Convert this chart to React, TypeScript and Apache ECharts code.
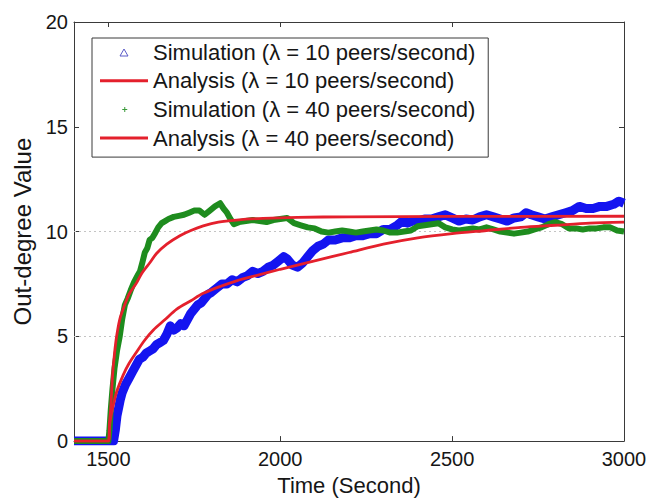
import React, { useEffect, useRef } from "react";
import * as echarts from "echarts";

// ---- data ----
const X_TICKS = [1500, 2000, 2500, 3000];
const X_TOP_TICKS = [1500, 2000, 2500];
const GRID_Y_VALUES = [5, 10];
const SERIES_NAMES = [
  "Simulation (λ = 10 peers/second)",
  "Analysis (λ = 10 peers/second)",
  "Simulation (λ = 40 peers/second)",
  "Analysis (λ = 40 peers/second)",
];

// Simulation, λ = 10 peers/second (blue triangles)
const simLambda10: [number, number][] = [
  [1400, 0], [1450, 0], [1500, 0], [1515, 0], [1520, 0.5], [1525, 1.2], [1530, 1.6], [1535, 2.0],
  [1540, 2.3], [1550, 2.7], [1560, 3.0], [1570, 3.3], [1580, 3.6], [1590, 3.9], [1600, 4.0],
  [1610, 4.2], [1620, 4.3], [1630, 4.4], [1640, 4.6], [1650, 4.7], [1660, 4.8], [1670, 5.1],
  [1680, 5.5], [1690, 5.3], [1700, 5.4], [1710, 5.6], [1720, 5.5], [1730, 5.8], [1740, 6.1],
  [1750, 6.3], [1760, 6.5], [1770, 6.6], [1780, 6.8], [1790, 7.0], [1800, 7.1], [1815, 7.3],
  [1830, 7.5], [1845, 7.5], [1860, 7.7], [1875, 7.6], [1890, 7.8], [1905, 7.9], [1920, 8.1],
  [1935, 8.0], [1950, 8.1], [1965, 8.3], [1980, 8.4], [1995, 8.6], [2010, 8.8], [2020, 8.7],
  [2035, 8.4], [2050, 8.3], [2065, 8.5], [2080, 8.8], [2095, 9.1], [2110, 9.3], [2125, 9.4],
  [2140, 9.6], [2160, 9.6], [2180, 9.7], [2200, 9.7], [2220, 9.8], [2240, 9.8], [2260, 9.9],
  [2280, 9.9], [2300, 10.1], [2320, 10.1], [2340, 10.3], [2355, 10.5], [2370, 10.4], [2385, 10.5],
  [2400, 10.5], [2420, 10.6], [2440, 10.6], [2460, 10.7], [2480, 10.8], [2500, 10.65], [2520, 10.5],
  [2540, 10.6], [2560, 10.55], [2580, 10.7], [2600, 10.8], [2620, 10.7], [2640, 10.6], [2660, 10.5],
  [2680, 10.65], [2700, 10.7], [2715, 10.9], [2730, 10.8], [2750, 10.7], [2770, 10.6], [2790, 10.7],
  [2810, 10.8], [2830, 10.9], [2850, 11.0], [2870, 11.2], [2890, 11.1], [2910, 11.1], [2930, 11.2],
  [2950, 11.2], [2970, 11.3], [2985, 11.45], [3000, 11.35],
];

// Analysis, λ = 10 peers/second
const anaLambda10: [number, number][] = [
  [1400, 0], [1500, 0], [1504, 0.8], [1509, 1.3], [1514, 1.7], [1525, 2.4], [1543, 3.15],
  [1560, 3.7], [1582, 4.25], [1605, 4.8], [1631, 5.3], [1665, 5.8], [1699, 6.3], [1740, 6.7],
  [1776, 7.05], [1820, 7.35], [1873, 7.65], [1930, 7.9], [2000, 8.2], [2100, 8.6], [2200, 9.0],
  [2300, 9.4], [2400, 9.7], [2500, 9.9], [2600, 10.05], [2700, 10.2], [2800, 10.3], [2900, 10.4],
  [3000, 10.45],
];

// Simulation, λ = 40 peers/second (green pluses)
const simLambda40: [number, number][] = [
  [1400, 0], [1500, 0], [1503, 0.5], [1507, 1.5], [1512, 2.5], [1518, 3.5], [1525, 4.3], [1533, 5.0],
  [1540, 5.8], [1548, 6.5], [1556, 6.8], [1565, 7.2], [1575, 7.6], [1585, 7.9], [1592, 8.1],
  [1600, 8.6], [1606, 9.0], [1613, 9.2], [1620, 9.6], [1628, 9.7], [1635, 9.9], [1645, 10.2],
  [1655, 10.4], [1665, 10.5], [1675, 10.6], [1690, 10.7], [1705, 10.75], [1720, 10.8], [1735, 10.9],
  [1750, 11.0], [1765, 11.0], [1780, 10.8], [1795, 11.0], [1810, 11.2], [1825, 11.35], [1835, 11.1],
  [1845, 10.9], [1855, 10.6], [1865, 10.35], [1880, 10.45], [1900, 10.5], [1920, 10.55], [1940, 10.5],
  [1960, 10.45], [1980, 10.55], [2000, 10.6], [2020, 10.65], [2040, 10.4], [2060, 10.3], [2080, 10.2],
  [2100, 10.15], [2120, 10.0], [2140, 9.95], [2160, 10.0], [2180, 10.05], [2200, 10.0], [2220, 9.95],
  [2240, 10.0], [2260, 10.05], [2280, 10.1], [2300, 10.05], [2320, 9.95], [2340, 9.95], [2360, 10.0],
  [2380, 10.05], [2400, 10.25], [2420, 10.3], [2440, 10.35], [2460, 10.4], [2480, 10.2], [2500, 10.1],
  [2520, 10.05], [2540, 10.1], [2560, 10.15], [2580, 10.1], [2600, 10.2], [2620, 10.1], [2640, 10.0],
  [2660, 9.95], [2680, 9.9], [2700, 9.95], [2720, 10.0], [2740, 10.1], [2760, 10.2], [2780, 10.35],
  [2800, 10.45], [2820, 10.35], [2840, 10.15], [2860, 10.15], [2880, 10.1], [2900, 10.15], [2920, 10.15],
  [2940, 10.2], [2960, 10.2], [2980, 10.05], [3000, 10.0],
];

// Analysis, λ = 40 peers/second
const anaLambda40: [number, number][] = [
  [1400, 0], [1500, 0], [1503, 0.8], [1507, 1.6], [1512, 3.1], [1518, 4.2], [1524, 5.0], [1533, 5.8],
  [1543, 6.3], [1560, 7.0], [1582, 7.55], [1597, 8.0], [1620, 8.5], [1640, 8.95], [1670, 9.4],
  [1708, 9.8], [1740, 10.05], [1776, 10.27], [1820, 10.45], [1873, 10.55], [1950, 10.63], [2050, 10.68],
  [2200, 10.7], [2500, 10.72], [3000, 10.73],
];

const BLUE = "#1414f0";
const GREEN = "#1e8c1e";
const RED = "#e4202c";
const FONT = "'Liberation Sans', Arial, Helvetica, sans-serif";

export default function App() {
  const ref = useRef<HTMLDivElement>(null);

  useEffect(() => {
    if (!ref.current) return;
    const chart = echarts.init(ref.current, undefined, { renderer: "svg" });

    const axisLineStyle = { color: "#3a3a3a", width: 1 };
    const plainNumber = (v: number) => String(v);

    chart.setOption({
      animation: false,
      backgroundColor: "#ffffff",
      textStyle: { fontFamily: FONT },
      grid: { left: 74, right: 38, top: 22, bottom: 54, containLabel: false },
      legend: {
        orient: "vertical",
        left: 92,
        top: 38,
        padding: [3, 13, 8, 8],
        itemWidth: 48,
        itemHeight: 12,
        itemGap: 6.7,
        selectedMode: false,
        backgroundColor: "#ffffff",
        borderColor: "#3a3a3a",
        borderWidth: 1,
        borderRadius: 0,
        symbolKeepAspect: true,
        z: 10,
        textStyle: { fontSize: 22, color: "#161616", fontFamily: FONT, lineHeight: 22 },
        data: [
          {
            name: SERIES_NAMES[0],
            icon: "path://M0,0M0,12M4,3L8,10H0Z",
            itemStyle: { color: "#ffffff", borderColor: "#5a5ac8", borderWidth: 1 },
          },
          {
            name: SERIES_NAMES[1],
            icon: "path://M0,0H48V3H0Z",
            itemStyle: { color: RED, borderWidth: 0 },
          },
          {
            name: SERIES_NAMES[2],
            icon: "path://M0,0M0,12M2.5,5.5H3.5V3.5H4.5V5.5H6.5V6.5H4.5V8.5H3.5V6.5H1.5V5.5H2.5Z",
            itemStyle: { color: "#3a9a3a", borderWidth: 0 },
          },
          {
            name: SERIES_NAMES[3],
            icon: "path://M0,0H48V3H0Z",
            itemStyle: { color: RED, borderWidth: 0 },
          },
        ],
      },
      xAxis: [
        {
          type: "value",
          position: "bottom",
          min: 1400,
          max: 3000,
          name: "Time (Second)",
          nameLocation: "middle",
          nameGap: 32,
          nameTextStyle: { fontSize: 22, color: "#161616", fontFamily: FONT },
          axisLine: { show: true, onZero: false, lineStyle: axisLineStyle },
          axisTick: { show: true, inside: true, length: 5, customValues: X_TICKS, lineStyle: axisLineStyle },
          axisLabel: {
            show: true,
            customValues: X_TICKS,
            formatter: plainNumber,
            fontSize: 20,
            color: "#161616",
            margin: 8,
            fontFamily: FONT,
          },
          splitLine: { show: false },
        },
        {
          type: "value",
          position: "top",
          min: 1400,
          max: 3000,
          axisLine: { show: true, onZero: false, lineStyle: axisLineStyle },
          axisTick: { show: true, inside: true, length: 5, customValues: X_TOP_TICKS, lineStyle: axisLineStyle },
          axisLabel: { show: false },
          splitLine: { show: false },
        },
      ],
      yAxis: [
        {
          type: "value",
          position: "left",
          min: 0,
          max: 20,
          interval: 5,
          name: "Out-degree Value",
          nameLocation: "middle",
          nameGap: 38,
          nameTextStyle: { fontSize: 24, color: "#161616", fontFamily: FONT },
          axisLine: { show: true, onZero: false, lineStyle: axisLineStyle },
          axisTick: { show: true, inside: true, length: 5, lineStyle: axisLineStyle },
          axisLabel: { show: true, formatter: plainNumber, fontSize: 20, color: "#161616", margin: 6, fontFamily: FONT },
          splitLine: { show: false },
        },
        {
          type: "value",
          position: "right",
          min: 0,
          max: 20,
          interval: 5,
          axisLine: { show: true, onZero: false, lineStyle: axisLineStyle },
          axisTick: { show: true, inside: true, length: 5, lineStyle: axisLineStyle },
          axisLabel: { show: false },
          splitLine: { show: false },
        },
      ],
      series: [
        {
          name: SERIES_NAMES[0],
          type: "line",
          xAxisIndex: 0,
          yAxisIndex: 0,
          data: simLambda10,
          showSymbol: false,
          symbol: "triangle",
          color: BLUE,
          lineStyle: { color: BLUE, width: 9, join: "round" },
          markLine: {
            silent: true,
            symbol: "none",
            label: { show: false },
            lineStyle: { color: "#c4c4c4", type: [2, 3], width: 1 },
            data: GRID_Y_VALUES.map((v) => ({ yAxis: v })),
            z: 1,
          },
          z: 2,
        },
        {
          name: SERIES_NAMES[2],
          type: "line",
          xAxisIndex: 0,
          yAxisIndex: 0,
          data: simLambda40,
          showSymbol: false,
          color: GREEN,
          lineStyle: { color: GREEN, width: 6, join: "round" },
          z: 3,
        },
        {
          name: SERIES_NAMES[1],
          type: "line",
          xAxisIndex: 0,
          yAxisIndex: 0,
          data: anaLambda10,
          showSymbol: false,
          smooth: 0.3,
          color: RED,
          lineStyle: { color: RED, width: 2.8 },
          z: 4,
        },
        {
          name: SERIES_NAMES[3],
          type: "line",
          xAxisIndex: 0,
          yAxisIndex: 0,
          data: anaLambda40,
          showSymbol: false,
          smooth: 0.3,
          color: RED,
          lineStyle: { color: RED, width: 2.8 },
          z: 4,
        },
      ],
    });

    return () => {
      chart.dispose();
    };
  }, []);

  return (
    <div
      ref={ref}
      style={{ position: "fixed", left: 0, top: 0, width: 662, height: 501, background: "#ffffff" }}
    />
  );
}
